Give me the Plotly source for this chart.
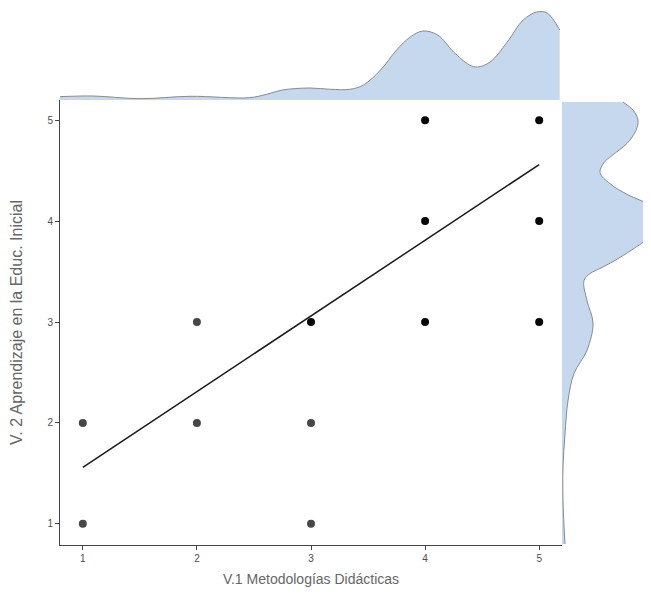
import plotly.graph_objects as go

# ---- data ----
pts_x = [1, 1, 2, 2, 3, 3, 3, 4, 4, 4, 5, 5, 5]
pts_y = [1, 2, 2, 3, 1, 2, 3, 3, 4, 5, 3, 4, 5]
pts_n = [1, 1, 1, 1, 1, 1, 3, 3, 3, 3, 3, 3, 3]   # overlapping observations (darkness)

fit_x = [1, 5]
fit_y = [1.56, 4.56]

# marginal density of V.1 (x)
dens_x_pos = [0.80, 1.09, 1.50, 1.94, 2.46, 2.61, 2.75, 2.99, 3.17, 3.34, 3.46, 3.61,
              3.75, 3.87, 3.98, 4.11, 4.25, 4.39, 4.46, 4.57, 4.72, 4.86, 4.98, 5.07, 5.18]
dens_x_val = [0.033, 0.040, 0.013, 0.037, 0.023, 0.057, 0.100, 0.120, 0.107, 0.107, 0.150, 0.300,
              0.500, 0.630, 0.690, 0.650, 0.480, 0.350, 0.330, 0.380, 0.580, 0.800, 0.880, 0.870, 0.700]

# marginal density of V.2 (y)
dens_y_pos = [5.18, 5.10, 5.00, 4.90, 4.77, 4.65, 4.58, 4.48, 4.37, 4.26, 4.16, 4.08, 4.00,
              3.92, 3.84, 3.64, 3.54, 3.48, 3.41, 3.21, 2.99, 2.72, 2.49, 2.22, 1.89, 1.56,
              1.23, 0.80]
dens_y_val = [0.61, 0.71, 0.76, 0.74, 0.65, 0.50, 0.42, 0.38, 0.48, 0.66, 0.88, 0.97, 1.00,
              0.97, 0.88, 0.58, 0.40, 0.28, 0.22, 0.25, 0.31, 0.25, 0.12, 0.06, 0.03, 0.01,
              0.01, 0.03]

x_ticks = [1, 2, 3, 4, 5]
y_ticks = [1, 2, 3, 4, 5]
x_title = "V.1 Metodologías Didácticas"
y_title = "V. 2 Aprendizaje en la Educ. Inicial"

# ---- styling ----
FILL = "rgba(198,216,238,1)"
EDGE = "#8a8a8a"
FONT = "Liberation Sans, Arial, sans-serif"


def shade(n):
    a = 1 - (1 - 0.72) ** n
    v = int(round(255 * (1 - a)))
    return f"rgb({v},{v},{v})"


fig = go.Figure()

fig.add_trace(go.Scatter(
    x=pts_x, y=pts_y, mode="markers",
    marker=dict(size=8, color=[shade(n) for n in pts_n], line=dict(width=0)),
    xaxis="x", yaxis="y", showlegend=False, hoverinfo="x+y"))

fig.add_trace(go.Scatter(
    x=fit_x, y=fit_y, mode="lines",
    line=dict(color="#1a1a1a", width=1.5),
    xaxis="x", yaxis="y", showlegend=False))

fig.add_trace(go.Scatter(
    x=dens_x_pos, y=dens_x_val, mode="lines", fill="tozeroy",
    fillcolor=FILL, line=dict(color=EDGE, width=1, shape="spline"),
    xaxis="x2", yaxis="y2", showlegend=False))

fig.add_trace(go.Scatter(
    x=dens_y_val, y=dens_y_pos, mode="lines", fill="tozerox",
    fillcolor=FILL, line=dict(color=EDGE, width=1, shape="spline"),
    xaxis="x3", yaxis="y3", showlegend=False))

W, H = 643, 592          # page body has an 8px margin
L, B = 52, 55
PW, PH = W - L, H - B
main_x_dom = [0, 502 / PW]
main_y_dom = [0, 445 / PH]

fig.update_layout(
    width=W, height=H,
    margin=dict(l=L, r=0, t=0, b=B),
    paper_bgcolor="white", plot_bgcolor="rgba(0,0,0,0)",
    font=dict(family=FONT, color="#555555"),
    xaxis=dict(domain=main_x_dom, range=[0.8, 5.2], tickvals=x_ticks, automargin=False,
               showgrid=False, zeroline=False, showline=True, linecolor="#444444",
               linewidth=1, ticks="outside", ticklen=4, tickcolor="#444444",
               tickfont=dict(size=10, color="#4d4d4d"),
               title=dict(text=x_title, font=dict(size=14, color="#666666"), standoff=11)),
    yaxis=dict(domain=main_y_dom, range=[0.79, 5.2], tickvals=y_ticks, automargin=False,
               showgrid=False, zeroline=False, showline=True, linecolor="#444444",
               linewidth=1, ticks="outside", ticklen=4, tickcolor="#444444",
               tickfont=dict(size=10, color="#4d4d4d"),
               title=dict(text=y_title, font=dict(size=16, color="#666666"), standoff=24)),
    xaxis2=dict(domain=main_x_dom, matches="x", anchor="y2", visible=False),
    yaxis2=dict(domain=[main_y_dom[1], 1], range=[0, 0.92], anchor="x2", visible=False),
    xaxis3=dict(domain=[main_x_dom[1], 1], range=[0, 0.89], anchor="y3", visible=False),
    yaxis3=dict(domain=main_y_dom, matches="y", anchor="x3", visible=False),
)

fig.write_html("out.html")
